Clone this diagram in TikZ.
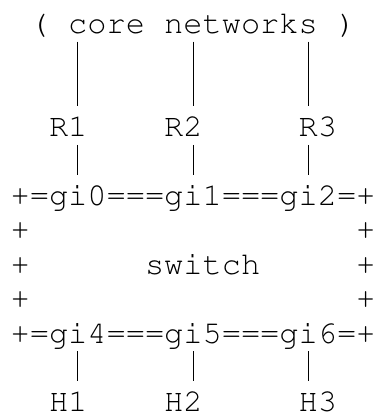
\documentclass[tikz,border=0pt]{standalone}
\usepackage{tikz}

\newcommand{\asciifont}{\fontencoding{T1}\fontfamily{pcr}\fontsize{32pt}{34.4pt}\selectfont}
\tikzset{
  chars/.style={font=\asciifont, inner sep=0pt, text height=30.5pt, text depth=8pt, anchor=base west},
  lastrow/.style={chars, text depth=1pt},
  wire/.style={line width=1pt}
}

\begin{document}
\begin{tikzpicture}[x=19.2pt, y=-34.4pt]
  \useasboundingbox (-10.4pt,-380.5pt) rectangle (365.6pt,33.5pt);

  % Core networks on the first line
  \node[chars] (core) at (1,0) {( core networks )};

  % Routers
  \node[chars] (R1) at (2,3) {R1};
  \node[chars] (R2) at (8,3) {R2};
  \node[chars] (R3) at (15,3) {R3};

  % Top edge of the switch with the uplink ports
  \node[chars] (tl) at (0,5) {+=};
  \node[chars] (gi0) at (2,5) {gi0};
  \node[chars] (t01) at (5,5) {===};
  \node[chars] (gi1) at (8,5) {gi1};
  \node[chars] (t12) at (11,5) {===};
  \node[chars] (gi2) at (14,5) {gi2};
  \node[chars] (tr) at (17,5) {=+};

  % Sides of the switch
  \foreach \r in {6,7,8} {
    \node[chars] (left\r) at (0,\r) {+};
    \node[chars] (right\r) at (18,\r) {+};
  }
  \node[chars] (switch) at (7,7) {switch};

  % Bottom edge of the switch with the host ports
  \node[chars] (bl) at (0,9) {+=};
  \node[chars] (gi4) at (2,9) {gi4};
  \node[chars] (b45) at (5,9) {===};
  \node[chars] (gi5) at (8,9) {gi5};
  \node[chars] (b56) at (11,9) {===};
  \node[chars] (gi6) at (14,9) {gi6};
  \node[chars] (br) at (17,9) {=+};

  % Hosts
  \node[lastrow] (H1) at (2,11) {H1};
  \node[lastrow] (H2) at (8,11) {H2};
  \node[lastrow] (H3) at (15,11) {H3};

  % Links core -- routers
  \draw[wire] (core.south -| gi0) -- (R1.north -| gi0);
  \draw[wire] (core.south -| gi1) -- (R2.north -| gi1);
  \draw[wire] (core.south -| gi2) -- (R3.north -| gi2);

  % Links routers -- switch
  \draw[wire] (R1.south -| gi0) -- (gi0.north);
  \draw[wire] (R2.south -| gi1) -- (gi1.north);
  \draw[wire] (R3.south -| gi2) -- (gi2.north);

  % Links switch -- hosts
  \draw[wire] (gi4.south) -- (H1.north -| gi4);
  \draw[wire] (gi5.south) -- (H2.north -| gi5);
  \draw[wire] (gi6.south) -- (H3.north -| gi6);
\end{tikzpicture}
\end{document}
